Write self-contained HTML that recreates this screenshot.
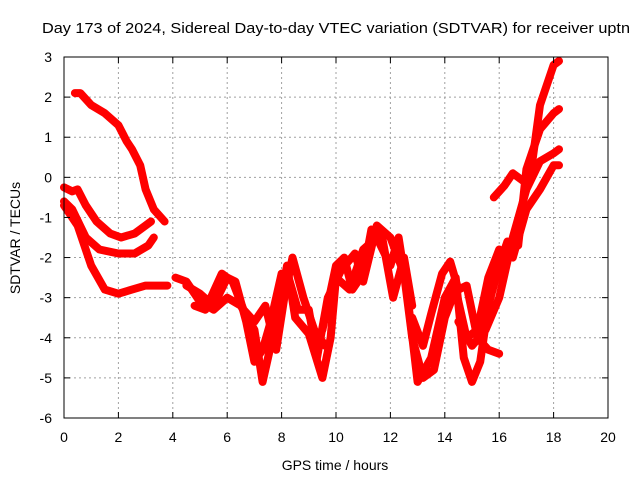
<!DOCTYPE html>
<html><head><meta charset="utf-8"><style>
body{margin:0;background:#fff;}
svg{display:block;font-family:"Liberation Sans",sans-serif;}
</style></head><body>
<svg id="chart" width="640" height="480" xmlns="http://www.w3.org/2000/svg">
<rect width="640" height="480" fill="#fff"/>
<text x="42" y="33" font-size="14.5" fill="#000" textLength="588" lengthAdjust="spacingAndGlyphs">Day 173 of 2024, Sidereal Day-to-day VTEC variation (SDTVAR) for receiver uptn</text>
<g id="grid"></g><g id="series"></g><g id="axes"></g>
<text x="335" y="470" font-size="14" text-anchor="middle">GPS time / hours</text>
<text transform="translate(20,238) rotate(-90)" font-size="14" text-anchor="middle">SDTVAR / TECUs</text>
</svg>
<script>
const xTicks=[0,2,4,6,8,10,12,14,16,18,20];
const yTicks=[3,2,1,0,-1,-2,-3,-4,-5,-6];
const trackA_t=[0.4,0.6,1,1.5,2,2.3,2.5,2.8,3,3.3,3.7];
const trackA_v=[2.1,2.1,1.8,1.6,1.3,0.9,0.7,0.3,-0.3,-0.8,-1.1];
const trackB_t=[0,0.3,0.5,0.8,1.2,1.7,2.1,2.6,3,3.2];
const trackB_v=[-0.25,-0.35,-0.3,-0.7,-1.1,-1.4,-1.5,-1.4,-1.2,-1.1];
const trackC_t=[0,0.3,0.8,1.3,2,2.6,3.1,3.3];
const trackC_v=[-0.6,-0.8,-1.5,-1.8,-1.9,-1.9,-1.7,-1.5];
const trackD_t=[0,0.5,1,1.5,2,2.5,3,3.8];
const trackD_v=[-0.7,-1.2,-2.2,-2.8,-2.9,-2.8,-2.7,-2.7];
const trackE_t=[4.1,4.5,5,5.5,6,6.5,7,7.3,7.6,8,8.2,8.5,9,9.5,9.8,10,10.5,11,11.5,12,12.3,12.6,13,13.5,14,14.4,14.7,15,15.3,15.6,16,16.3,16.7,17,17.5,18,18.2];
const trackE_v=[-2.5,-2.6,-3.1,-3.3,-3.0,-3.2,-3.8,-5.1,-4.2,-3.0,-2.2,-3.5,-3.9,-5.0,-4.0,-2.5,-2.8,-1.8,-1.5,-2.2,-1.5,-2.8,-5.1,-4.5,-3.0,-2.5,-4.5,-5.1,-4.6,-3.2,-2.2,-1.6,-1.7,0.2,1.2,1.6,1.7];
const trackF_t=[4.5,5,5.5,6,6.3,6.7,7,7.3,7.6,8,8.3,8.6,9,9.3,9.7,10.2,10.7,11,11.5,12,12.5,12.8,13.2,13.6,14,14.4,14.8,15.2,15.6,16,16.5,17,17.5,18,18.2];
const trackF_v=[-2.7,-2.9,-3.2,-2.5,-2.6,-3.6,-4.6,-4.3,-3.6,-2.4,-2.6,-3.3,-3.3,-4.5,-3.0,-2.3,-1.9,-2.6,-1.2,-1.5,-2.4,-4.0,-5.0,-4.8,-3.5,-2.8,-4.0,-3.8,-2.5,-1.8,-2.0,-0.8,-0.3,0.3,0.3];
const trackG_t=[15.8,16.2,16.5,16.9,17.2,17.5,18,18.2];
const trackG_v=[-0.5,-0.2,0.1,-0.1,0.3,1.8,2.8,2.9];
const trackH_t=[14.5,15,15.5,16,16.5,17,17.5,18,18.2];
const trackH_v=[-3.6,-4.2,-3.8,-3.0,-1.5,-0.3,0.4,0.6,0.7];
const trackI_t=[4.8,5.2,5.8,6.2,6.6,7,7.4,7.8,8.1,8.4,8.8,9.2,9.6];
const trackI_v=[-3.2,-3.3,-2.4,-2.6,-3.3,-3.6,-3.2,-4.3,-3.0,-2.0,-3.0,-3.8,-4.2];
const trackJ_t=[9.5,10,10.3,10.6,11,11.3,11.7,12.1,12.5,12.8];
const trackJ_v=[-3.8,-2.2,-2.0,-2.8,-2.4,-1.3,-1.5,-3.0,-2.0,-3.2];
const trackK_t=[12.8,13.2,13.5,13.9,14.2,14.5,14.8,15.2,15.6,16];
const trackK_v=[-3.5,-4.2,-3.4,-2.4,-2.1,-2.8,-2.7,-4.0,-4.3,-4.4];
const tracks=[[trackA_t,trackA_v],[trackB_t,trackB_v],[trackC_t,trackC_v],[trackD_t,trackD_v],[trackE_t,trackE_v],[trackF_t,trackF_v],[trackG_t,trackG_v],[trackH_t,trackH_v],[trackI_t,trackI_v],[trackJ_t,trackJ_v],[trackK_t,trackK_v]];
const L=64,R=608,T=57,B=418;
const xs=t=>L+(t-0)/20*(R-L);
const ys=v=>T+(3-v)/9*(B-T);
const NS="http://www.w3.org/2000/svg";
function mk(tag,attrs,parent){const e=document.createElementNS(NS,tag);for(const k in attrs)e.setAttribute(k,attrs[k]);parent.appendChild(e);return e;}
const grid=document.getElementById('grid'),axes=document.getElementById('axes'),ser=document.getElementById('series');
xTicks.forEach(t=>{const x=xs(t);
 if(t>0&&t<20){const g=mk('line',{x1:x,x2:x,y1:T,y2:B,stroke:'#a0a0a0','stroke-dasharray':'2,3'},grid);
 
 }
 const tl=mk('text',{x:x,y:B+24,'font-size':14,'text-anchor':'middle'},axes);tl.textContent=t;
 
 
 mk('line',{x1:x,x2:x,y1:B,y2:B-6,stroke:'#000'},axes);mk('line',{x1:x,x2:x,y1:T,y2:T+6,stroke:'#000'},axes);});
yTicks.forEach(v=>{const y=ys(v);
 if(v<3&&v>-6){const g=mk('line',{x1:L,x2:R,y1:y,y2:y,stroke:'#a0a0a0','stroke-dasharray':'2,3'},grid);
 
 }
 const tl=mk('text',{x:L-12,y:y+5,'font-size':14,'text-anchor':'end'},axes);tl.textContent=v;
 
 
 mk('line',{x1:L,x2:L+6,y1:y,y2:y,stroke:'#000'},axes);mk('line',{x1:R,x2:R-6,y1:y,y2:y,stroke:'#000'},axes);});
const fr=mk('rect',{x:L,y:T,width:R-L,height:B-T,fill:'none',stroke:'#000'},axes);


tracks.forEach(([ts,vs],i)=>{
 const pts=ts.map((t,j)=>xs(t).toFixed(1)+','+ys(vs[j]).toFixed(1)).join(' ');
 const p=mk('polyline',{points:pts,fill:'none',stroke:'#ff0000','stroke-width':8,'stroke-linejoin':'round','stroke-linecap':'round'},ser);
 
 
});
</script>
</body></html>
